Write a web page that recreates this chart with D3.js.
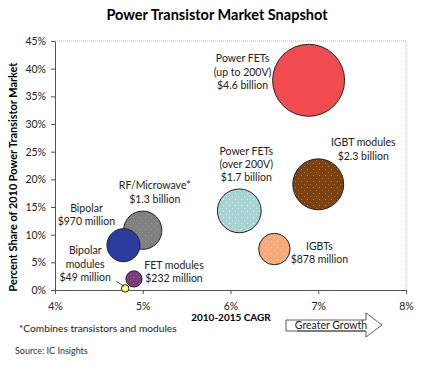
<!DOCTYPE html>
<html>
<head>
<meta charset="utf-8">
<script src="https://cdn.jsdelivr.net/npm/d3@7"></script>
<style>
  body { margin: 0; background: #fff; }
  svg { font-family: Lato, "Open Sans", sans-serif; }
</style>
</head>
<body>
<svg width="424" height="371"></svg>
<script>
// data
const segments = ["Power FETs (up to 200V)", "IGBT modules", "Power FETs (over 200V)", "IGBTs",
                  "RF/Microwave*", "Bipolar", "FET modules", "Bipolar modules"];
const cagr = [6.89, 7.0, 6.1, 6.5, 5.0, 4.78, 4.9, 4.8];
const share = [37.9, 19.1, 14.3, 7.4, 10.8, 8.1, 2.0, 0.3];
const revenue = [4.6, 2.3, 1.7, 0.878, 1.3, 0.97, 0.232, 0.049]; // $ billion
const labels = [
  ["Power FETs", "(up to 200V)", "$4.6 billion"],
  ["IGBT modules", "$2.3 billion"],
  ["Power FETs", "(over 200V)", "$1.7 billion"],
  ["IGBTs", "$878 million"],
  ["RF/Microwave*", "$1.3 billion"],
  ["Bipolar", "$970 million"],
  ["FET modules", "$232 million"],
  ["Bipolar", "modules", "$49 million"]
];
const xTicks = [4, 5, 6, 7, 8];
const yTicks = [0, 5, 10, 15, 20, 25, 30, 35, 40, 45];

const fills = ["#f04b4e", "#7a4210", "#a8d3d3", "#f8a97b", "#808080", "#2b3ba0", "#7b3b7c", "#ffff6e"];
const dots = [null, "#e89a50", "#ffffff", "#ffe6a8", "#a8a8a8", "#c04870", "#b07aa8", null];
// label anchor offsets relative to bubble centre (dx, dy of first line)
const labelPos = [[-66, -18], [45, -38], [7, -56], [45, 1], [12, -41], [-37, -33], [40, -10], [-40, -34]];

const svg = d3.select("svg");
const margin = { left: 55, right: 18, top: 41, bottom: 81 };
const W = 424, H = 371;

const x = d3.scaleLinear().domain([4, 8]).range([margin.left, W - margin.right]);
const y = d3.scaleLinear().domain([0, 45]).range([H - margin.bottom, margin.top]);
const r = d3.scaleSqrt().domain([0, 4.6]).range([0, 36]);

// sparse dot patterns
const defs = svg.append("defs");
fills.forEach((c, i) => {
  if (!dots[i]) return;
  const p = defs.append("pattern").attr("id", "pat" + i)
    .attr("patternUnits", "userSpaceOnUse").attr("width", 6).attr("height", 6);
  p.append("rect").attr("width", 6).attr("height", 6).attr("fill", c);
  p.append("rect").attr("x", 1).attr("y", 1).attr("width", 1).attr("height", 1)
    .attr("fill", dots[i]).attr("opacity", i === 5 ? 0 : 0.75);
  p.append("rect").attr("x", 4).attr("y", 4).attr("width", 1).attr("height", 1)
    .attr("fill", dots[i]).attr("opacity", i === 5 ? 0 : 0.5);
});

// title
svg.append("text").attr("x", 217).attr("y", 20).attr("text-anchor", "middle")
  .attr("font-weight", "bold").attr("font-size", 14.5).text("Power Transistor Market Snapshot");

// plot frame (top/right dotted grey)
svg.append("path")
  .attr("d", `M${x(4)},${y(45)}H${x(8)}V${y(0)}`)
  .attr("fill", "none").attr("stroke", "#b8b8b8").attr("stroke-dasharray", "1,1");

// axes
const xAxis = svg.append("g").attr("transform", `translate(0,${y(0)})`)
  .call(d3.axisBottom(x).tickValues(xTicks).tickFormat(d => d + "%").tickSize(4).tickSizeOuter(0));
const yAxis = svg.append("g").attr("transform", `translate(${x(4)},0)`)
  .call(d3.axisLeft(y).tickValues(yTicks).tickFormat(d => d + "%").tickSize(4).tickSizeOuter(0));
[xAxis, yAxis].forEach(a => {
  a.select(".domain").attr("stroke", "#555");
  a.selectAll(".tick line").attr("stroke", "#555");
  a.selectAll("text").attr("font-family", "Lato, sans-serif").attr("font-size", 10.5).attr("fill", "#222");
});
xAxis.selectAll("text").attr("dy", "1.2em");
yAxis.selectAll("text").attr("dx", "-2");

// axis titles
svg.append("text").attr("x", 231).attr("y", 321).attr("text-anchor", "middle")
  .attr("font-weight", "bold").attr("font-size", 10).text("2010-2015 CAGR");
svg.append("text").attr("transform", "translate(17,177) rotate(-90)").attr("text-anchor", "middle")
  .attr("font-weight", "bold").attr("font-size", 10.9).text("Percent Share of 2010 Power Transistor Market");

// bubbles
const idx = d3.range(segments.length);
svg.append("g").selectAll("circle").data(idx).join("circle")
  .attr("cx", i => x(cagr[i]))
  .attr("cy", i => y(share[i]))
  .attr("r", i => r(revenue[i]))
  .attr("fill", i => dots[i] ? `url(#pat${i})` : fills[i])
  .attr("stroke", "#222").attr("stroke-width", 1);

// bubble labels
const lab = svg.append("g").selectAll("text").data(idx).join("text")
  .attr("text-anchor", "middle").attr("font-size", 10.5).attr("fill", "#222");
lab.each(function (i) {
  const t = d3.select(this);
  labels[i].forEach((s, k) => {
    t.append("tspan")
      .attr("x", x(cagr[i]) + labelPos[i][0])
      .attr("y", y(share[i]) + labelPos[i][1] + k * 13.3)
      .text(s);
  });
});

// leader line for bipolar modules
svg.append("line")
  .attr("x1", x(4.8) - 9).attr("y1", y(0.3) - 7)
  .attr("x2", x(4.8) - 1).attr("y2", y(0.3) - 2)
  .attr("stroke", "#222").attr("stroke-width", 0.8);

// footnotes
svg.append("text").attr("x", 19).attr("y", 332).attr("font-size", 10.2).attr("fill", "#222")
  .text("*Combines transistors and modules");
svg.append("text").attr("x", 15).attr("y", 354).attr("font-size", 9).attr("fill", "#333")
  .text("Source: IC Insights");

// greater growth arrow
svg.append("path")
  .attr("d", "M286,320H366V313L382,325L366,337V331H286Z")
  .attr("fill", "#fff").attr("stroke", "#333").attr("stroke-width", 0.8);
svg.append("text").attr("x", 331).attr("y", 329).attr("text-anchor", "middle")
  .attr("font-size", 10.5).attr("fill", "#222").text("Greater Growth");
svg.append("line").attr("x1", 297).attr("x2", 365).attr("y1", 331).attr("y2", 331)
  .attr("stroke", "#333").attr("stroke-width", 0.8);
</script>
</body>
</html>
